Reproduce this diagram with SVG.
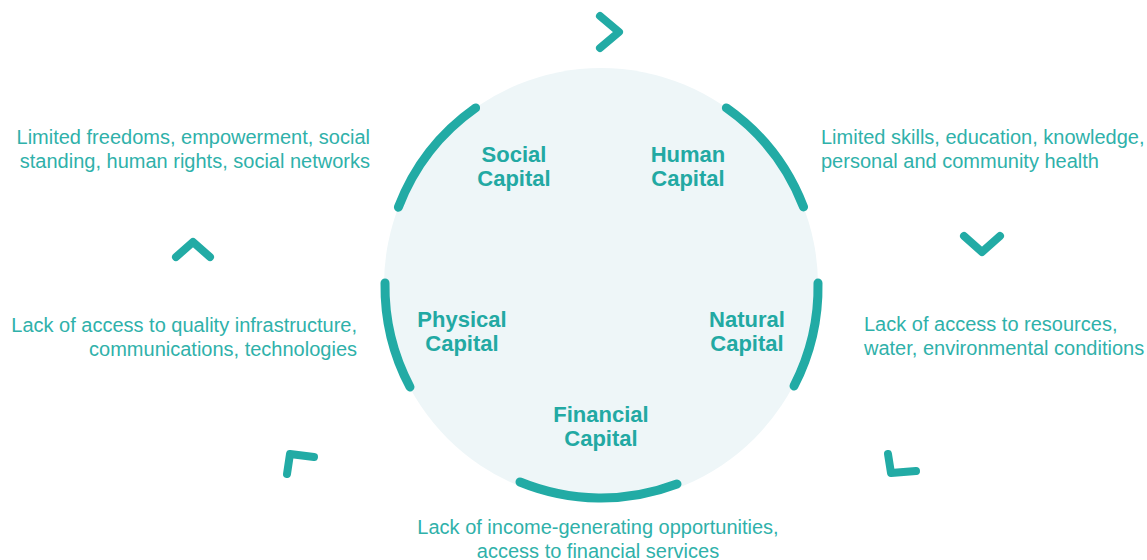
<svg xmlns="http://www.w3.org/2000/svg" width="1147" height="560" viewBox="0 0 1147 560">
<style>
.desc{font-family:"Liberation Sans",Arial,sans-serif;font-size:20px;fill:#2fb1aa}
.cap{font-family:"Liberation Sans",Arial,sans-serif;font-size:22px;font-weight:bold;fill:#22a9a3;text-anchor:middle}
.arc{fill:none;stroke:#22aba5;stroke-width:9;stroke-linecap:round}
.chev{fill:none;stroke:#22aba5;stroke-width:8;stroke-linecap:round;stroke-linejoin:round}
</style>
<rect width="1147" height="560" fill="#ffffff"/>
<circle cx="601" cy="285" r="217" fill="#eef6f8"/>
<g id="connectors">
<path class="arc" d="M398.4 207.2 A216 216 0 0 1 475.6 107.9"/>
<path class="arc" d="M726.4 107.9 A216 216 0 0 1 803.5 206.9"/>
<path class="arc" d="M818 283 A216 216 0 0 1 794 386"/>
<path class="arc" d="M677 484 A214 214 0 0 1 520 482"/>
<path class="arc" d="M410 387 A216 216 0 0 1 385 283"/>
<polyline class="chev" points="600,16 619,32 600,48"/>
<polyline class="chev" points="964,236 982,252 1000,236"/>
<polyline class="chev" points="888,454 891,473 916,471"/>
<polyline class="chev" points="287,474 290,454 314,457"/>
<polyline class="chev" points="176,257 193,242 210,257"/>
</g>
<g id="social">
<text class="cap" x="514" y="162">Social</text>
<text class="cap" x="514" y="186">Capital</text>
<text class="desc" x="370" y="144" text-anchor="end">Limited freedoms, empowerment, social</text>
<text class="desc" x="370" y="168" text-anchor="end">standing, human rights, social networks</text>
</g>
<g id="human">
<text class="cap" x="688" y="162">Human</text>
<text class="cap" x="688" y="186">Capital</text>
<text class="desc" x="821" y="144">Limited skills, education, knowledge,</text>
<text class="desc" x="821" y="168">personal and community health</text>
</g>
<g id="natural">
<text class="cap" x="747" y="327">Natural</text>
<text class="cap" x="747" y="351">Capital</text>
<text class="desc" x="864" y="331">Lack of access to resources,</text>
<text class="desc" x="864" y="355">water, environmental conditions</text>
</g>
<g id="financial">
<text class="cap" x="601" y="422">Financial</text>
<text class="cap" x="601" y="446">Capital</text>
<text class="desc" x="598" y="534" text-anchor="middle">Lack of income-generating opportunities,</text>
<text class="desc" x="598" y="558" text-anchor="middle">access to financial services</text>
</g>
<g id="physical">
<text class="cap" x="462" y="327">Physical</text>
<text class="cap" x="462" y="351">Capital</text>
<text class="desc" x="357" y="332" text-anchor="end">Lack of access to quality infrastructure,</text>
<text class="desc" x="357" y="356" text-anchor="end">communications, technologies</text>
</g>
</svg>
